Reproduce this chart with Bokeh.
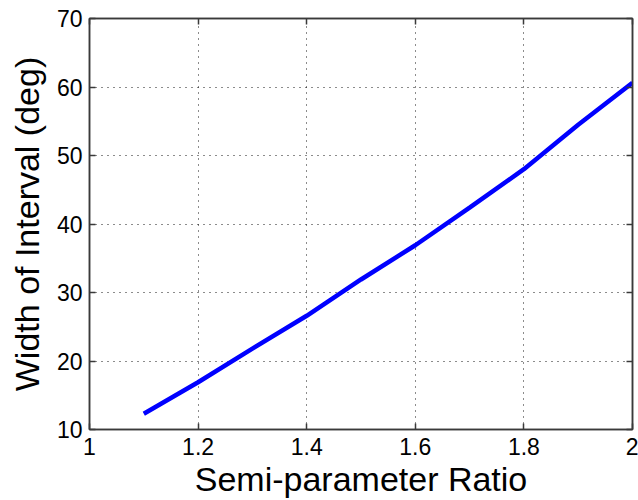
from bokeh.plotting import figure
from bokeh.models import Range1d, FixedTicker, LinearAxis
from bokeh.embed import file_html
from bokeh.resources import INLINE

# Interval width versus semi-parameter ratio
ratio = [1.1, 1.2, 1.3, 1.4, 1.5, 1.6, 1.7, 1.8, 1.9, 2.0]
width_deg = [12.3, 16.9, 21.8, 26.6, 31.9, 36.9, 42.4, 48.0, 54.5, 60.6]

x_ticks = [1.0, 1.2, 1.4, 1.6, 1.8, 2.0]
x_tick_labels = ["1", "1.2", "1.4", "1.6", "1.8", "2"]
y_ticks = [10, 20, 30, 40, 50, 60, 70]
y_tick_labels = ["10", "20", "30", "40", "50", "60", "70"]

FONT = "Liberation Sans"
AXIS_COLOR = "#3a3a3a"

p = figure(
    width=638, height=500,
    output_backend="svg", toolbar_location=None,
    x_range=Range1d(1, 2), y_range=Range1d(10, 70),
    min_border_left=89, min_border_right=6,
    min_border_top=18, min_border_bottom=69,
    x_axis_label="Semi-parameter Ratio",
    y_axis_label="Width of Interval (deg)",
)
p.background_fill_color = "white"
p.border_fill_color = "white"
p.outline_line_color = AXIS_COLOR
p.outline_line_width = 1.5

p.line(ratio, width_deg, line_color="#0000ff", line_width=4.5)

# main axes
for ax, ticks, labels in ((p.xaxis[0], x_ticks, x_tick_labels),
                          (p.yaxis[0], y_ticks, y_tick_labels)):
    ax.ticker = FixedTicker(ticks=ticks)
    ax.major_label_overrides = dict(zip(ticks, labels))
    ax.minor_tick_line_color = None
    ax.major_tick_in = 6
    ax.major_tick_out = 0
    ax.major_tick_line_color = AXIS_COLOR
    ax.major_tick_line_width = 1.5
    ax.axis_line_color = AXIS_COLOR
    ax.axis_line_width = 1.5
    ax.major_label_text_font = FONT
    ax.major_label_text_font_size = "23px"
    ax.major_label_text_color = "black"
    ax.axis_label_text_font = FONT
    ax.axis_label_text_font_size = "34px"
    ax.axis_label_text_font_style = "normal"
    ax.axis_label_text_color = "black"

p.xaxis[0].major_label_standoff = 8
p.xaxis[0].axis_label_standoff = 2
p.yaxis[0].major_label_standoff = 7
p.yaxis[0].axis_label_standoff = 8

# mirrored tick marks on the top and right edges, without labels
for loc, ticks in (("above", x_ticks), ("right", y_ticks)):
    ax = LinearAxis(ticker=FixedTicker(ticks=ticks))
    ax.major_label_text_font_size = "0px"
    ax.major_label_text_color = None
    ax.major_label_standoff = 0
    ax.minor_tick_line_color = None
    ax.major_tick_in = 6
    ax.major_tick_out = 0
    ax.major_tick_line_color = AXIS_COLOR
    ax.major_tick_line_width = 1.5
    ax.axis_line_color = AXIS_COLOR
    ax.axis_line_width = 1.5
    p.add_layout(ax, loc)

# dotted grid
p.xgrid.ticker = FixedTicker(ticks=x_ticks)
p.ygrid.ticker = FixedTicker(ticks=y_ticks)
for g in (p.xgrid, p.ygrid):
    g.grid_line_color = "black"
    g.grid_line_width = 1
    g.grid_line_dash = "1 5"
    g.grid_line_alpha = 0.9

open("out.html", "w").write(file_html(p, INLINE))
